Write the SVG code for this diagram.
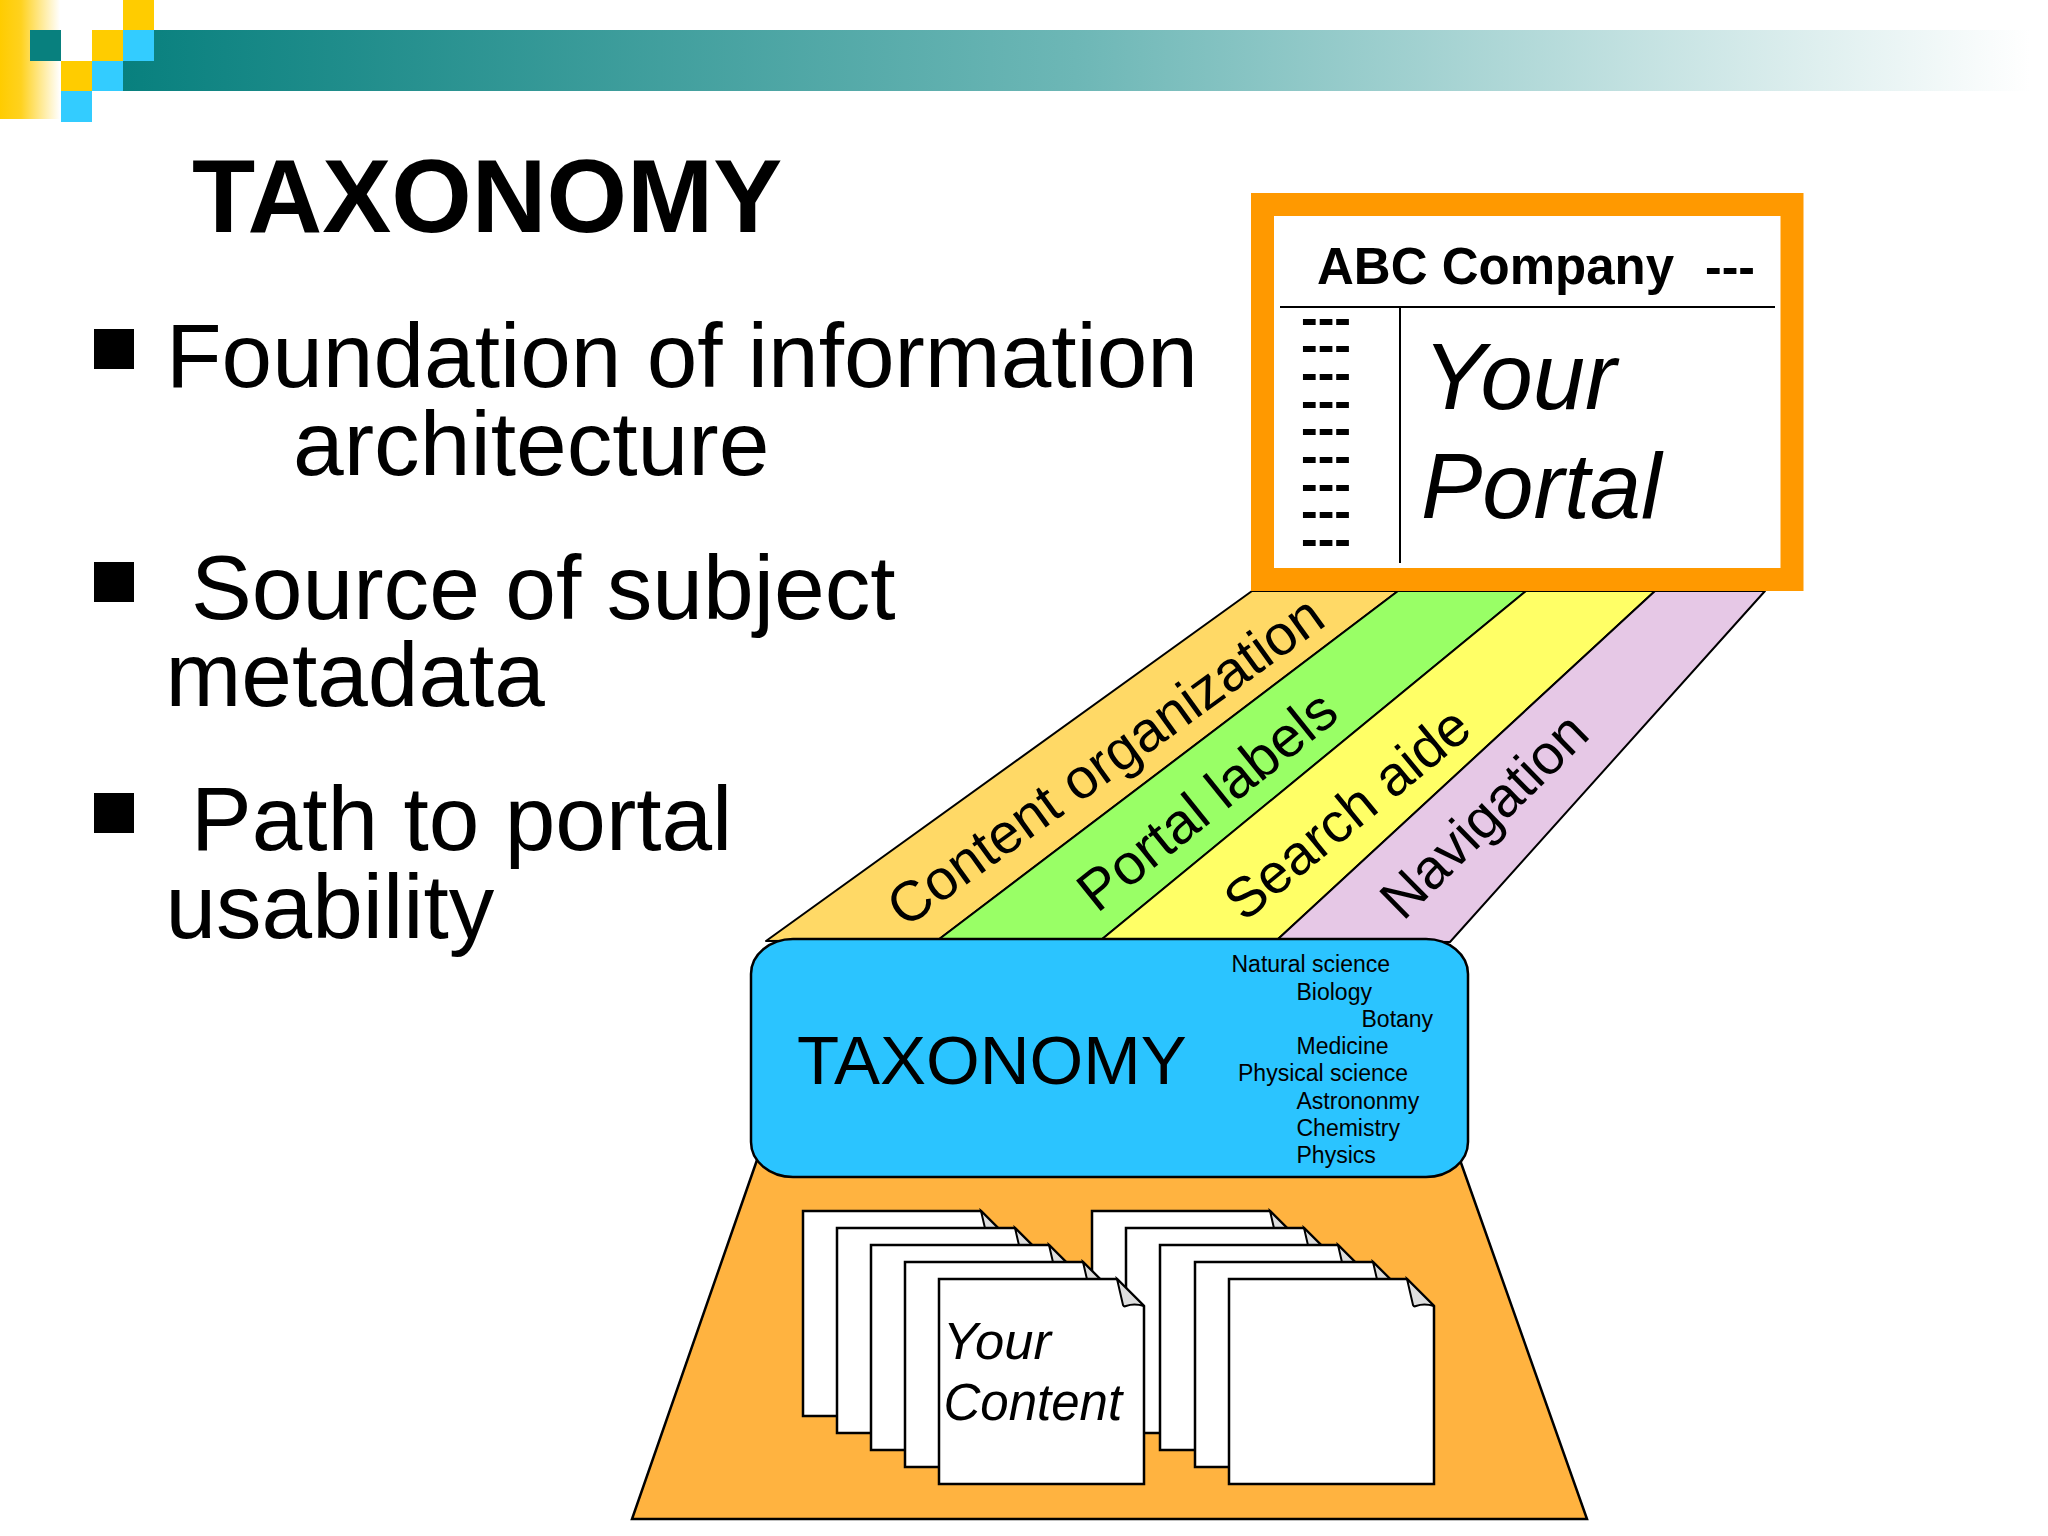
<svg xmlns="http://www.w3.org/2000/svg" width="2048" height="1536" viewBox="0 0 2048 1536">
<defs>
<linearGradient id="bar" x1="0" x2="1" y1="0" y2="0"><stop offset="0" stop-color="#08807E"/><stop offset="0.5" stop-color="#6DB7B6"/><stop offset="1" stop-color="#FFFFFF"/></linearGradient>
<linearGradient id="gold" x1="0" x2="1" y1="0" y2="0"><stop offset="0" stop-color="#FFCC00"/><stop offset="0.35" stop-color="#FFD21F"/><stop offset="1" stop-color="#FFFFFF"/></linearGradient>
<g id="page"><path d="M0,0H178L205,27V205H0Z" fill="#fff" stroke="#000" stroke-width="2.5"/><path d="M178,0L205,27Q195,24 187,27Q185,28 184,26Z" fill="#DEDEDE" stroke="#000" stroke-width="2"/></g>
</defs>
<style>
text{font-family:"Liberation Sans",Arial,sans-serif;fill:#000}
.body{font-size:91px}
.band{stroke:#000;stroke-width:2;stroke-linejoin:round}
.dash{font-size:50px;font-weight:bold}
.tree{font-size:23px}
.lbl{font-size:56px}
.sq{stroke:none}
</style>
<rect width="2048" height="1536" fill="#fff"/>
<g id="banner">
<rect x="0" y="0" width="60" height="119" fill="url(#gold)"/>
<rect x="122" y="30" width="1908" height="61" fill="url(#bar)"/>
<rect class="sq" x="30" y="30" width="31" height="31" fill="#08807E"/>
<rect class="sq" x="123" y="0" width="31" height="30" fill="#FFCC00"/>
<rect class="sq" x="92" y="30" width="31" height="31" fill="#FFCC00"/>
<rect class="sq" x="123" y="30" width="31" height="31" fill="#33CCFF"/>
<rect class="sq" x="61" y="61" width="31" height="30" fill="#FFCC00"/>
<rect class="sq" x="92" y="61" width="31" height="30" fill="#33CCFF"/>
<rect class="sq" x="61" y="91" width="31" height="31" fill="#33CCFF"/>
</g>
<g id="title"><text x="192" y="232" font-size="103.500" font-weight="bold">TAXONOMY</text></g>
<g id="bullets">
<rect x="94" y="329" width="40" height="40"/><text class="body" x="166" y="387">Foundation of information</text><text class="body" x="293" y="474.500" style="font-size:91.200px">architecture</text>
<rect x="94" y="562" width="40" height="40"/><text class="body" x="191" y="618.500" style="font-size:91.200px">Source of subject</text><text class="body" x="165.500" y="705.500">metadata</text>
<rect x="94" y="793" width="40" height="40"/><text class="body" x="191" y="850">Path to portal</text><text class="body" x="165.500" y="938">usability</text>
</g>
<g id="connectors">
<polygon class="band" points="1252,591 1398,591 938,940 766,941" fill="#FFD966"/>
<polygon class="band" points="1398,591 1526,591 1101,940 938,940" fill="#99FF66"/>
<polygon class="band" points="1526,591 1655,591 1277,940 1101,940" fill="#FFFF66"/>
<polygon class="band" points="1655,591 1765,591 1450,942 1277,940" fill="#E6C8E6"/>
</g>
<g id="band-labels">
<text class="lbl" transform="translate(905,929) rotate(-35.800)" style="font-size:56.500px">Content organization</text>
<text class="lbl" transform="translate(1097,914) rotate(-38.800)" style="font-size:57px">Portal labels</text>
<text class="lbl" transform="translate(1244,923) rotate(-39.500)">Search aide</text>
<text class="lbl" transform="translate(1403,922) rotate(-44.500)">Navigation</text>
</g>
<g id="portal">
<rect x="1262.500" y="204.500" width="529.500" height="375" fill="#fff" stroke="#FF9900" stroke-width="23"/>
<text x="1317" y="284" font-size="51" font-weight="bold">ABC Company</text>
<text class="dash" x="1705" y="284">---</text>
<path d="M1280,307H1775M1400,307V563" stroke="#000" stroke-width="2" fill="none"/>
<text class="dash" x="1301" y="335">---</text>
<text class="dash" x="1301" y="362">---</text>
<text class="dash" x="1301" y="390">---</text>
<text class="dash" x="1301" y="418">---</text>
<text class="dash" x="1301" y="445">---</text>
<text class="dash" x="1301" y="473">---</text>
<text class="dash" x="1301" y="501">---</text>
<text class="dash" x="1301" y="528">---</text>
<text class="dash" x="1301" y="556">---</text>
<text x="1423" y="409" font-size="94" font-style="italic">Your</text>
<text x="1421" y="518" font-size="92" font-style="italic">Portal</text>
</g>
<g id="content-base">
<polygon points="757,1160 1460,1160 1587,1519 632,1519" fill="#FFB340"/>
<path d="M757,1160L632,1519H1587L1460,1160" fill="none" stroke="#000" stroke-width="2.500"/>
</g>
<g id="taxonomy">
<rect x="751" y="939" width="717" height="238" rx="42" ry="35" fill="#2BC4FF" stroke="#000" stroke-width="2.500"/>
<text x="797" y="1084" font-size="69">TAXONOMY</text>
<text class="tree" x="1231.500" y="972">Natural science</text>
<text class="tree" x="1296.500" y="1000">Biology</text>
<text class="tree" x="1361.500" y="1027">Botany</text>
<text class="tree" x="1296.500" y="1054">Medicine</text>
<text class="tree" x="1238" y="1081">Physical science</text>
<text class="tree" x="1296.500" y="1108.500">Astrononmy</text>
<text class="tree" x="1296.500" y="1136">Chemistry</text>
<text class="tree" x="1296.500" y="1163">Physics</text>
</g>
<g id="pages-right">
<use href="#page" x="1092" y="1211"/><use href="#page" x="1126" y="1228"/><use href="#page" x="1160" y="1245"/><use href="#page" x="1195" y="1262"/><use href="#page" x="1229" y="1279"/>
</g>
<g id="pages-left">
<use href="#page" x="803" y="1211"/><use href="#page" x="837" y="1228"/><use href="#page" x="871" y="1245"/><use href="#page" x="905" y="1262"/><use href="#page" x="939" y="1279"/>
<text x="943" y="1359" font-size="52.500" font-style="italic">Your</text>
<text x="943.500" y="1420" font-size="51" font-style="italic">Content</text>
</g>
</svg>
